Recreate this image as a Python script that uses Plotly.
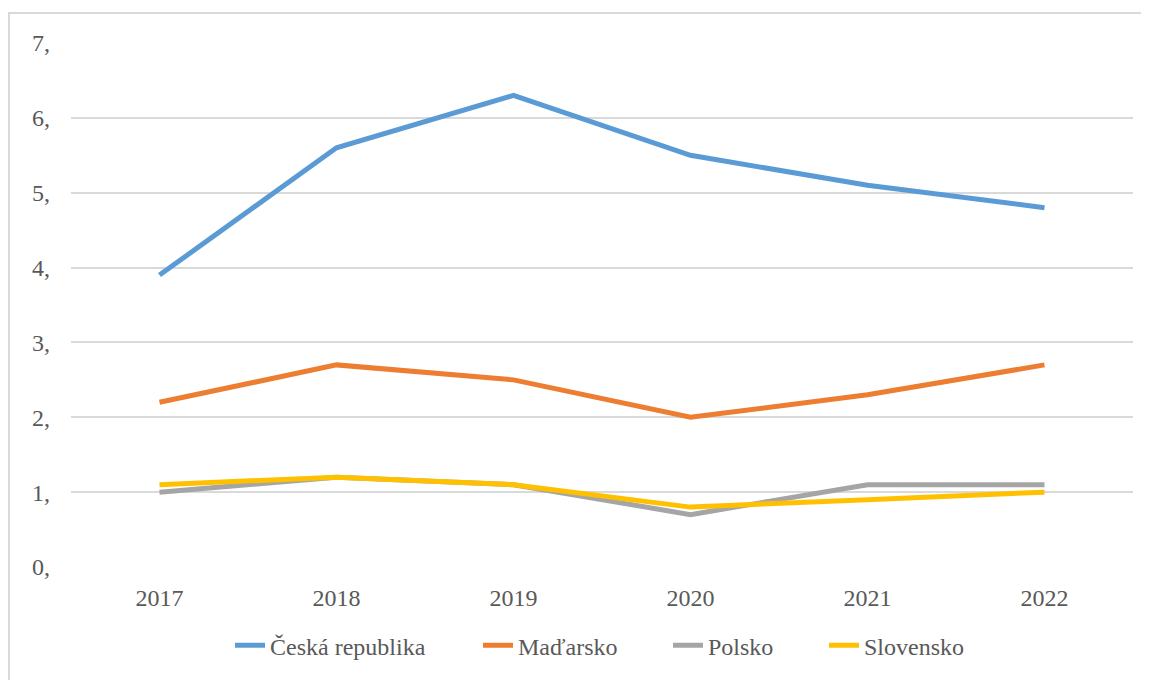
import plotly.graph_objects as go

years = ["2017", "2018", "2019", "2020", "2021", "2022"]
ceska = [3.9, 5.6, 6.3, 5.5, 5.1, 4.8]
madarsko = [2.2, 2.7, 2.5, 2.0, 2.3, 2.7]
polsko = [1.0, 1.2, 1.1, 0.7, 1.1, 1.1]
slovensko = [1.1, 1.2, 1.1, 0.8, 0.9, 1.0]
y_tickvals = [0, 1, 2, 3, 4, 5, 6, 7]
y_ticktext = ["0,", "1,", "2,", "3,", "4,", "5,", "6,", "7,"]

series = [
    ("Česká republika", ceska, "#5B9BD5"),
    ("Maďarsko", madarsko, "#ED7D31"),
    ("Polsko", polsko, "#A5A5A5"),
    ("Slovensko", slovensko, "#FFC000"),
]

# page has an 8px body margin; figure coordinates = page - 8
W, H = 1141, 672
ml, mr, mt, mb = 63, 16, 35, 111
pw, ph = W - ml - mr, H - mt - mb

def px_x(p):
    return (p - ml) / pw

def px_y(p):
    return (H - mb - p) / ph

font_family = "Liberation Serif, Times New Roman, serif"
fs = 24
legend_keys = ["legend", "legend2", "legend3", "legend4"]
legend_text_x = [262, 510, 700, 856]

fig = go.Figure()
for (name, vals, color), lk in zip(series, legend_keys):
    fig.add_trace(go.Scatter(x=years, y=vals, mode="lines", name=name,
                             line=dict(color=color, width=5), legend=lk))

fig.add_shape(type="rect", xref="paper", yref="paper",
              x0=px_x(1), x1=px_x(1160), y0=px_y(5), y1=px_y(700),
              line=dict(color="#d9d9d9", width=2), fillcolor="rgba(0,0,0,0)",
              layer="below")

legend_layout = {}
for lk, tx in zip(legend_keys, legend_text_x):
    legend_layout[lk] = dict(orientation="h", x=px_x(tx - 40), xanchor="left",
                             y=px_y(640), yanchor="middle",
                             font=dict(family=font_family, size=fs, color="#595959"),
                             bgcolor="rgba(0,0,0,0)", itemwidth=30)

fig.update_layout(
    width=W, height=H,
    margin=dict(l=ml, r=mr, t=mt, b=mb),
    paper_bgcolor="white", plot_bgcolor="white",
    font=dict(family=font_family, size=fs, color="#595959"),
    showlegend=True,
    xaxis=dict(type="category", showgrid=False, showline=False, zeroline=False,
               ticks="", ticklabelstandoff=14, range=[-0.5, 5.5]),
    yaxis=dict(range=[0, 7], tickvals=y_tickvals, ticktext=y_ticktext,
               showgrid=True, gridcolor="#d9d9d9", gridwidth=2, zeroline=False,
               showline=False, ticks="", ticklabelstandoff=20),
    **legend_layout,
)

fig.write_html("out.html")
